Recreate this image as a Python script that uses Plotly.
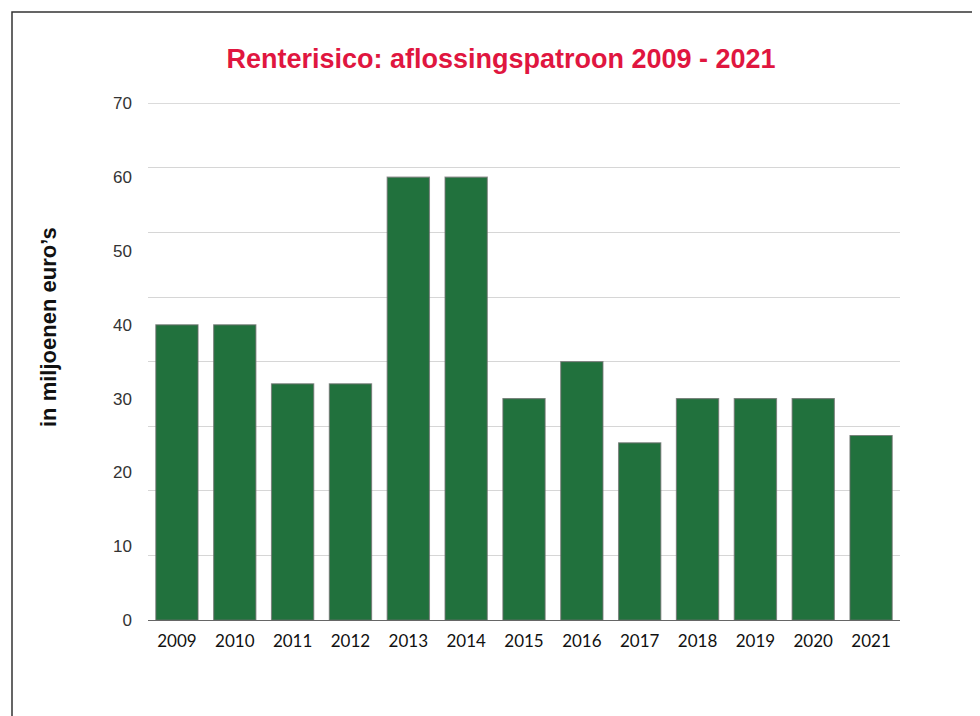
import plotly.graph_objects as go

years = ["2009", "2010", "2011", "2012", "2013", "2014", "2015", "2016",
         "2017", "2018", "2019", "2020", "2021"]
values = [40, 40, 32, 32, 60, 60, 30, 35, 24, 30, 30, 30, 25]
label_ticks = [0, 10, 20, 30, 40, 50, 60, 70]
grid_ticks = [0, 8.75, 17.5, 26.25, 35, 43.75, 52.5, 61.25, 70]

# the page body has an 8px margin, so the figure is drawn from (8, 8)
W, H = 972, 708
L, T = 140, 95
R = W - 892
B = H - 612
pw, ph = W - L - R, H - T - B

fig = go.Figure()
fig.add_trace(go.Bar(
    x=years, y=values,
    marker=dict(color="#21713D", line=dict(color="rgba(110,110,110,0.7)", width=1.2)),
    showlegend=False, hoverinfo="x+y",
))
fig.add_trace(go.Scatter(x=[years[0]], y=[0], yaxis="y2", mode="markers",
                         marker=dict(opacity=0, size=1), showlegend=False, hoverinfo="skip"))

yr = [0, 70.05]
fig.update_layout(
    width=W, height=H,
    margin=dict(l=L, r=R, t=T, b=B),
    paper_bgcolor="white", plot_bgcolor="white",
    bargap=0.27,
    title=dict(text="<b>Renterisico: aflossingspatroon 2009 - 2021</b>",
               x=493 / W, xanchor="center", xref="container",
               y=1 - 51 / H, yanchor="middle", yref="container",
               font=dict(family="Liberation Sans, Arial", size=27, color="#E0163F")),
    xaxis=dict(range=[-0.5, len(years) - 0.5], autorange=False,
               showgrid=False, showline=True, linecolor="#666", linewidth=1,
               ticks="", tickfont=dict(family="Lato, sans-serif", size=17, color="#111"),
               ticklabelstandoff=6),
    yaxis=dict(range=yr, tickvals=grid_ticks, showticklabels=False,
               showgrid=True, gridcolor="#d6d6d6", gridwidth=1, zeroline=False,
               ticks=""),
    yaxis2=dict(range=yr, overlaying="y", side="left", tickvals=label_ticks,
                showgrid=False, zeroline=False, ticks="",
                tickfont=dict(family="Liberation Sans, Arial", size=17, color="#333"),
                ticklabelstandoff=15),
    annotations=[dict(text="<b>in miljoenen euro’s</b>", textangle=-90,
                      xref="paper", yref="paper", x=(40 - L) / pw, y=(612 - 319) / ph,
                      xanchor="center", yanchor="middle", showarrow=False,
                      font=dict(family="Liberation Sans, Arial", size=22, color="#111"))],
    shapes=[
        dict(type="path", xref="paper", yref="paper",
             path=f"M {(4-L)/pw} {(612-H)/ph} L {(4-L)/pw} {1 + (T-4)/ph} L {(W-L)/pw} {1 + (T-4)/ph}",
             line=dict(color="#333", width=1.5)),
        # top gridline (plotly drops the one at the range edge)
        dict(type="line", xref="paper", yref="y", x0=0, x1=1,
             y0=grid_ticks[-1], y1=grid_ticks[-1], layer="below",
             line=dict(color="#d6d6d6", width=1)),
    ],
)

fig.write_html("out.html")
